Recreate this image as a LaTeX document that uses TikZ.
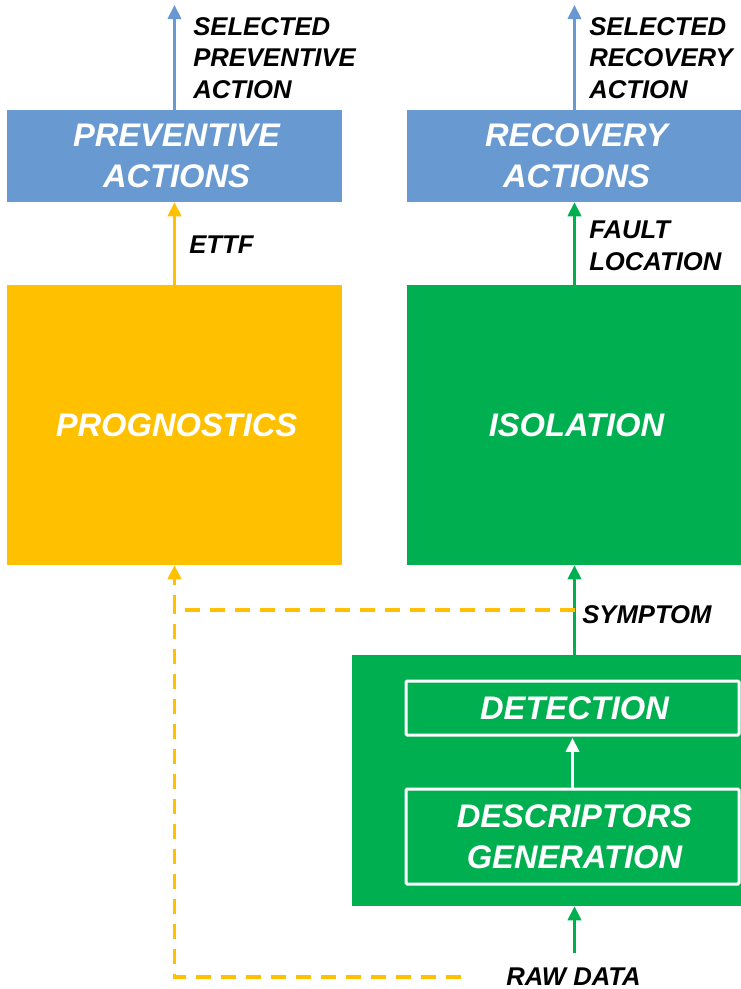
\documentclass[tikz,border=0pt]{standalone}
\usepackage{fontspec}
\setmainfont{Liberation Sans}
\usetikzlibrary{arrows.meta}
\definecolor{actblue}{HTML}{689AD1}
\definecolor{progyellow}{HTML}{FFC000}
\definecolor{isogreen}{HTML}{00B050}

\begin{document}
\begin{tikzpicture}[x=0.75pt,y=-0.75pt,
  box/.style={rectangle, inner sep=0pt, text=white, align=center,
    font=\fontsize{24.5}{30.75}\selectfont\bfseries\itshape},
  lbl/.style={inner sep=0pt, anchor=north west, align=left,
    font=\fontsize{19.25}{23.6}\selectfont\bfseries\itshape},
  flow/.style={line width=2.25pt, -{Triangle[width=10pt,length=10.5pt]}},
  dashline/.style={progyellow, line width=2.75pt, dash pattern=on 11.25pt off 7.5pt},
]
\useasboundingbox (0,0) rectangle (740,989);

% action boxes
\node[box, fill=actblue, minimum width=251.25pt, minimum height=69pt] (prev) at (174.5,156) {\hspace*{3pt}PREVENTIVE\\\hspace*{3pt}ACTIONS};
\node[box, fill=actblue, minimum width=251.25pt, minimum height=69pt] (recov) at (574.5,156) {\hspace*{3pt}RECOVERY\\\hspace*{3pt}ACTIONS};

% main blocks
\node[box, fill=progyellow, minimum width=251.25pt, minimum height=210pt] (prog) at (174.5,425) {\hspace*{3pt}PROGNOSTICS};
\node[box, fill=isogreen, minimum width=251.25pt, minimum height=210pt] (iso) at (574.5,425) {\hspace*{3pt}ISOLATION};

% detection block
\node[fill=isogreen, inner sep=0pt, minimum width=294.75pt, minimum height=188.25pt] (fdd) at (548.5,780.5) {};
\node[box, fill=isogreen, draw=white, line width=2.25pt, rounded corners=1pt,
  minimum width=249.75pt, minimum height=40.5pt] (det) at (572.5,708) {\hspace*{3pt}DETECTION};
\node[box, fill=isogreen, draw=white, line width=2.25pt, rounded corners=1pt,
  minimum width=249.75pt, minimum height=71.25pt] (desc) at (572.5,836.5) {\hspace*{3pt}DESCRIPTORS\\\hspace*{3pt}GENERATION};

% free ends
\coordinate (prevout) at (174.5,5);
\coordinate (recout) at (574.5,5);
\coordinate (rawin) at (574.5,953);
\coordinate (symjoin) at (574.5,610);
\coordinate (rawend) at (461,977);

% connectors
\draw[flow, actblue] (prev.north) -- (prevout);
\draw[flow, actblue] (recov.north) -- (recout);
\draw[flow, progyellow] (prog.north) -- (prev.south);
\draw[flow, isogreen] (iso.north) -- (recov.south);
\draw[flow, isogreen] (iso.south |- fdd.north) -- (iso.south);
\draw[flow, white, line width=2pt, shorten >=1.1pt] (desc.north) -- (det.south);
\draw[flow, isogreen] (rawin) -- (rawin |- fdd.south);
\draw[dashline] (symjoin) -- (prog.south |- symjoin);
\draw[dashline] (rawend) -| (prog.south |- symjoin);
\draw[dashline, -{Triangle[width=10pt,length=10.5pt]}, dash pattern=on 11.25pt off 7.5pt]
  (prog.south |- symjoin) -- (prog.south);

% labels
\node[lbl] (lselprev) at (193,17) {SELECTED\\PREVENTIVE\\ACTION};
\node[lbl] (lselrec) at (589,17) {SELECTED\\RECOVERY\\ACTION};
\node[lbl] (lettf) at (189,236) {ETTF};
\node[lbl] (lfault) at (589,221) {FAULT\\LOCATION};
\node[lbl] (lsym) at (582,605) {SYMPTOM};
\node[lbl, anchor=base west] (lraw) at (506,985) {RAW DATA};
\end{tikzpicture}
\end{document}
